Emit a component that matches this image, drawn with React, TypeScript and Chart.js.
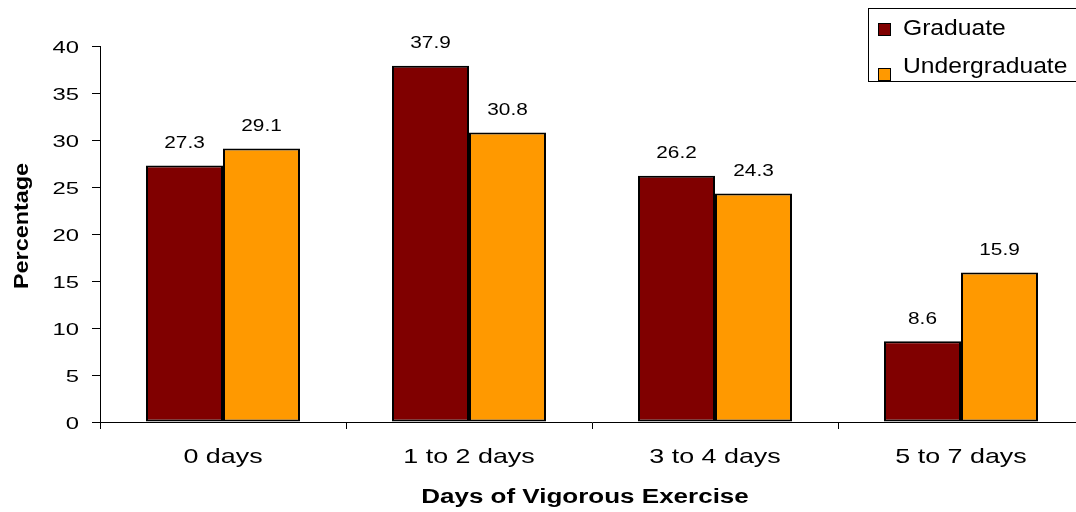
import React, { useEffect, useRef } from "react";
import { Chart, registerables } from "chart.js";

Chart.register(...registerables);

const categories = ["0 days", "1 to 2 days", "3 to 4 days", "5 to 7 days"];
const graduate = [27.3, 37.9, 26.2, 8.6];
const undergraduate = [29.1, 30.8, 24.3, 15.9];
const seriesNames = ["Graduate", "Undergraduate"];
const seriesColors = ["#800000", "#FF9900"];
const yTicks = [0, 5, 10, 15, 20, 25, 30, 35, 40];
const xTitle = "Days of Vigorous Exercise";
const yTitle = "Percentage";

const FONT = '"Liberation Sans", Arial, sans-serif';

function drawText(
  ctx: CanvasRenderingContext2D,
  text: string,
  x: number,
  y: number,
  font: string,
  sx: number,
  align: CanvasTextAlign,
  baseline: CanvasTextBaseline = "alphabetic",
  rot = 0
) {
  ctx.save();
  ctx.font = font;
  ctx.textAlign = align;
  ctx.textBaseline = baseline;
  ctx.translate(x, y);
  if (rot) ctx.rotate(rot);
  ctx.scale(sx, 1);
  ctx.fillText(text, 0, 0);
  ctx.restore();
}

const textPlugin = {
  id: "textPlugin",
  afterDraw(chart: any) {
    const ctx = chart.ctx as CanvasRenderingContext2D;
    const xs = chart.scales.x;
    const ys = chart.scales.y;
    ctx.save();
    ctx.fillStyle = "#000";

    // data labels
    chart.data.datasets.forEach((ds: any, di: number) => {
      const meta = chart.getDatasetMeta(di);
      meta.data.forEach((bar: any, i: number) => {
        const v = ds.data[i];
        drawText(ctx, v.toFixed(1), bar.x, bar.y - 17.5, `16px ${FONT}`, 1.3, "center");
      });
    });

    // y tick labels
    yTicks.forEach((t) => {
      drawText(ctx, String(t), 79, ys.getPixelForValue(t) + 6.5, `17px ${FONT}`, 1.4, "right");
    });

    // x category labels
    categories.forEach((c, i) => {
      drawText(ctx, c, xs.getPixelForValue(i), 463, `21px ${FONT}`, 1.28, "center");
    });

    // x title
    drawText(ctx, xTitle, 585, 503, `bold 20px ${FONT}`, 1.3, "center");

    // y title
    drawText(ctx, yTitle, 22, 226, `bold 20px ${FONT}`, 1.17, "center", "middle", -Math.PI / 2);

    // legend
    ctx.strokeStyle = "#000";
    ctx.lineWidth = 1;
    ctx.strokeRect(868.5, 8.5, 300, 73);
    const rows = [
      { sq: 23, base: 35 },
      { sq: 68, base: 73 },
    ];
    seriesNames.forEach((n, i) => {
      ctx.fillStyle = seriesColors[i];
      ctx.fillRect(878, rows[i].sq, 13, 13);
      ctx.strokeStyle = "#000";
      ctx.strokeRect(878.5, rows[i].sq + 0.5, 12, 12);
      ctx.fillStyle = "#000";
      drawText(ctx, n, 903, rows[i].base, `22px ${FONT}`, 1.12, "left");
    });

    ctx.restore();
  },
};

export default function App() {
  const ref = useRef<HTMLCanvasElement | null>(null);
  useEffect(() => {
    if (!ref.current) return;
    const chart = new Chart(ref.current, {
      type: "bar",
      data: {
        labels: categories,
        datasets: [
          {
            label: seriesNames[0],
            data: graduate,
            backgroundColor: seriesColors[0],
            borderColor: "#000",
            borderWidth: 2,
            borderSkipped: false,
            categoryPercentage: 0.626,
            barPercentage: 1,
          },
          {
            label: seriesNames[1],
            data: undergraduate,
            backgroundColor: seriesColors[1],
            borderColor: "#000",
            borderWidth: 2,
            borderSkipped: false,
            categoryPercentage: 0.626,
            barPercentage: 1,
          },
        ],
      },
      options: {
        responsive: false,
        animation: false,
        devicePixelRatio: 1,
        layout: { padding: { top: 46, left: 0, right: 0, bottom: 0 } },
        plugins: {
          legend: { display: false },
          tooltip: { enabled: false },
        },
        scales: {
          x: {
            type: "category",
            offset: true,
            grid: {
              display: true,
              drawOnChartArea: false,
              drawTicks: true,
              tickLength: 7,
              color: "#000",
              offset: true,
            },
            border: { display: true, color: "#000" },
            ticks: { display: false },
            afterFit: (s: any) => {
              s.height = 90;
            },
          },
          y: {
            min: 0,
            max: 40,
            ticks: { display: false, stepSize: 5 },
            grid: {
              display: true,
              drawOnChartArea: false,
              drawTicks: true,
              tickLength: 8,
              color: "#000",
            },
            border: { display: true, color: "#000" },
            afterFit: (s: any) => {
              s.width = 100;
            },
          },
        },
      },
      plugins: [textPlugin],
    } as any);
    return () => chart.destroy();
  }, []);
  return (
    <div
      style={{
        position: "fixed",
        left: 0,
        top: 0,
        width: 1076,
        height: 512,
        overflow: "hidden",
        background: "#fff",
      }}
    >
      <canvas ref={ref} width={1084} height={512} style={{ width: 1084, height: 512, display: "block" }} />
    </div>
  );
}
